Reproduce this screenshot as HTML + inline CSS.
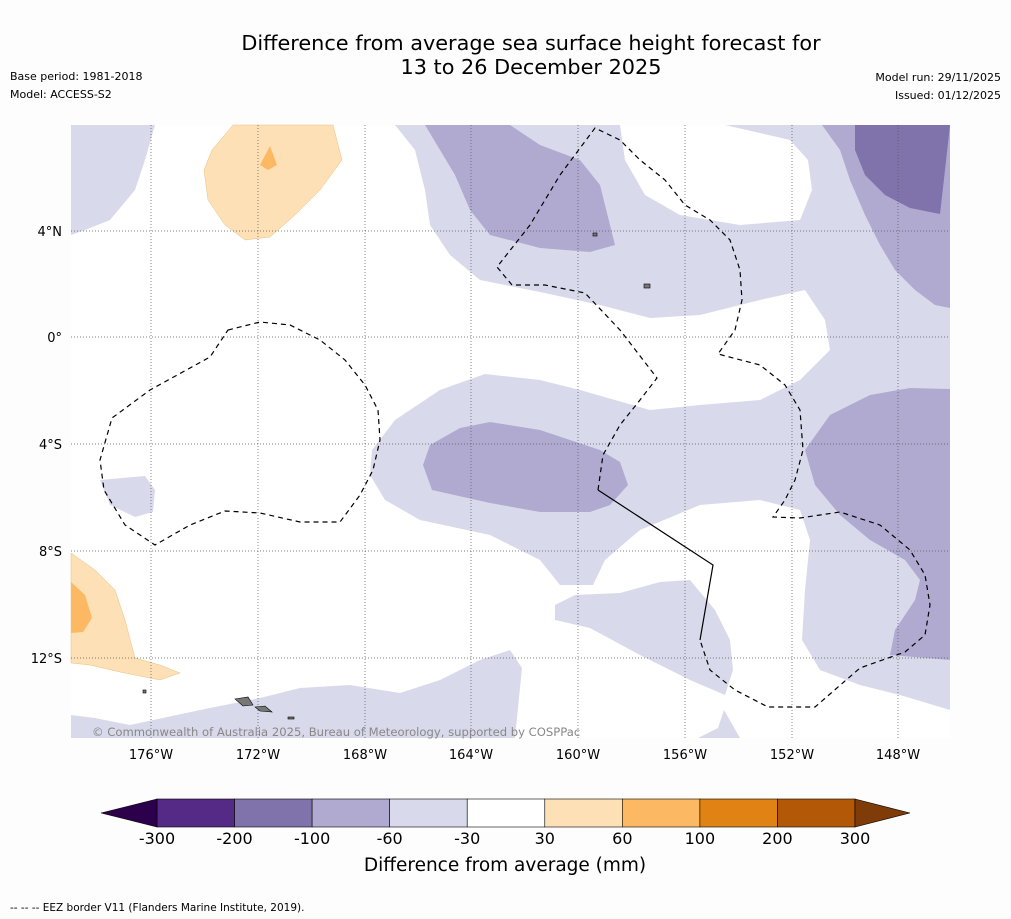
<!DOCTYPE html>
<html><head><meta charset="utf-8"><style>
body{margin:0;background:#fdfdfd;width:1011px;height:919px;overflow:hidden;font-family:"DejaVu Sans","Liberation Sans",sans-serif;}
svg{position:absolute;left:0;top:0;font-family:"DejaVu Sans","Liberation Sans",sans-serif;}
</style></head><body>
<svg width="1011" height="919" xmlns="http://www.w3.org/2000/svg">
<text x="531" y="50" font-size="20.8" text-anchor="middle" fill="#000">Difference from average sea surface height forecast for</text>
<text x="531" y="74" font-size="20.8" text-anchor="middle" fill="#000">13 to 26 December 2025</text>
<text x="10" y="80" font-size="11">Base period: 1981-2018</text>
<text x="10" y="98" font-size="11">Model: ACCESS-S2</text>
<text x="1001" y="81" font-size="11" text-anchor="end">Model run: 29/11/2025</text>
<text x="1001" y="99" font-size="11" text-anchor="end">Issued: 01/12/2025</text>

<g>
<rect x="71" y="125" width="879" height="613" fill="#fff"/>
<g fill="#d8daeb">
<path d="M71,125 L155,125 L145,160 L135,190 L110,220 L85,230 L71,235Z"/>
<path d="M395,125 L620,125 L625,160 L645,195 L680,215 L740,225 L800,220 L812,190 L808,160 L790,140 L725,125 L950,125 L950,710 L900,695 L860,685 L820,670 L802,640 L805,590 L810,540 L800,510 L760,500 L700,505 L640,530 L605,560 L593,585 L560,585 L540,560 L490,535 L420,520 L385,500 L370,475 L372,450 L395,420 L440,390 L485,374 L540,380 L580,390 L650,410 L700,405 L760,400 L800,380 L830,350 L825,320 L805,290 L760,300 L700,315 L650,318 L600,305 L540,292 L480,280 L450,255 L430,225 L425,190 L415,150Z"/>
<path d="M100,480 L145,476 L155,490 L153,512 L135,517 L110,505Z"/>
<path d="M555,605 L575,595 L620,593 L660,582 L690,580 L715,610 L730,640 L733,670 L725,695 L690,680 L640,655 L590,628 L555,620Z"/>
<path d="M71,715 L95,718 L130,725 L200,710 L260,698 L300,688 L350,685 L400,693 L440,680 L480,660 L510,650 L522,668 L515,738 L71,738Z"/>
<path d="M698,738 L718,728 L724,710 L740,738Z"/>
</g>
<g fill="#b0aad1">
<path d="M425,125 L510,125 L540,145 L580,160 L600,185 L615,245 L590,252 L540,248 L490,235 L470,210 L455,175 L440,150Z"/>
<path d="M822,125 L950,125 L950,308 L935,305 L915,290 L895,270 L880,245 L865,215 L850,180 L840,150Z"/>
<path d="M430,445 L460,428 L490,422 L540,430 L600,450 L620,462 L628,485 L610,505 L590,512 L540,512 L490,503 L432,490 L423,465Z"/>
<path d="M805,450 L830,415 L870,395 L910,388 L950,389 L950,660 L890,655 L895,630 L915,600 L920,580 L905,560 L870,540 L840,515 L815,485Z"/>
</g>
<path d="M855,125 L950,125 L945,170 L940,214 L910,208 L885,195 L865,175 L855,150Z" fill="#8073ac"/>
<g>
<path d="M233,125 L333,125 L342,160 L320,190 L295,215 L270,237 L245,240 L225,225 L208,200 L204,170 L212,150Z" fill="#fee0b6" stroke="#e8c080" stroke-width="0.5"/>
<path d="M260,165 L270,146 L277,165 L268,170Z" fill="#fdb863"/>
<path d="M71,553 L95,570 L115,590 L125,620 L135,658 L160,665 L180,673 L160,680 L120,672 L90,665 L71,663Z" fill="#fee0b6" stroke="#e8c080" stroke-width="0.5"/>
<path d="M71,582 L85,595 L92,618 L83,632 L71,633Z" fill="#fdb863"/>
</g>
<g stroke="#555" stroke-width="0.7" stroke-dasharray="1,2">
<line x1="151" y1="125" x2="151" y2="738"/><line x1="258" y1="125" x2="258" y2="738"/><line x1="365" y1="125" x2="365" y2="738"/><line x1="471" y1="125" x2="471" y2="738"/><line x1="578" y1="125" x2="578" y2="738"/><line x1="685" y1="125" x2="685" y2="738"/><line x1="792" y1="125" x2="792" y2="738"/><line x1="898" y1="125" x2="898" y2="738"/>
<line x1="71" y1="231" x2="950" y2="231"/><line x1="71" y1="337" x2="950" y2="337"/><line x1="71" y1="444" x2="950" y2="444"/><line x1="71" y1="551" x2="950" y2="551"/><line x1="71" y1="658" x2="950" y2="658"/>
</g>
<g fill="none" stroke="#000" stroke-width="1.2">
<path stroke-dasharray="5,4" d="M228,330 L260,322 L290,325 L320,340 L345,360 L365,385 L378,410 L380,440 L373,470 L360,495 L340,522 L300,522 L260,513 L225,511 L190,525 L155,545 L125,525 L104,490 L100,460 L112,418 L150,390 L210,357Z"/>
<path stroke-dasharray="5,4" d="M598,490 L603,455 L620,425 L640,400 L657,378 L620,330 L585,293 L545,285 L512,285 L497,267 L530,225 L560,175 L595,128 L620,140 L640,160 L665,180 L685,205 L710,220 L730,240 L740,270 L742,300 L735,330 L718,354 L760,365 L785,385 L800,410 L803,450 L795,480 L785,500 L773,517 L800,518 L840,512 L880,525 L910,550 L925,575 L930,605 L925,635 L905,652 L860,668 L815,707 L768,707 L735,690 L710,670 L700,640"/>
<path d="M598,490 L713,565 L700,640"/>
</g>
<g fill="#777" stroke="#000" stroke-width="0.6">
<path d="M235,699 L248,697 L253,705 L243,706Z"/><path d="M255,707 L265,706 L272,712 L260,711Z"/>
<rect x="593" y="233" width="4" height="3"/><rect x="644" y="284" width="6" height="4"/><rect x="143" y="690" width="3" height="3"/><rect x="288" y="717" width="6" height="2"/>
</g>
<text x="92" y="736" font-size="11.6" fill="#888">© Commonwealth of Australia 2025, Bureau of Meteorology, supported by COSPPac</text>
</g>
<g font-size="13" fill="#000">
<text x="151" y="759" text-anchor="middle">176°W</text><text x="258" y="759" text-anchor="middle">172°W</text><text x="365" y="759" text-anchor="middle">168°W</text><text x="471" y="759" text-anchor="middle">164°W</text><text x="578" y="759" text-anchor="middle">160°W</text><text x="685" y="759" text-anchor="middle">156°W</text><text x="792" y="759" text-anchor="middle">152°W</text><text x="898" y="759" text-anchor="middle">148°W</text>
<text x="62" y="236" text-anchor="end">4°N</text><text x="62" y="342" text-anchor="end">0°</text><text x="62" y="449" text-anchor="end">4°S</text><text x="62" y="556" text-anchor="end">8°S</text><text x="62" y="663" text-anchor="end">12°S</text>
</g>
<g id="cbar"></g>
<text x="505" y="871" font-size="18.5" text-anchor="middle">Difference from average (mm)</text>
<text x="10" y="911" font-size="10.5">--  --  -- EEZ border V11 (Flanders Marine Institute, 2019).</text>
</svg>
<script>
const tickLabels=["-300","-200","-100","-60","-30","30","60","100","200","300"];
const binColors=["#552a86","#8073ac","#b0aad1","#d8daeb","#ffffff","#fee0b6","#fdb863","#e08214","#b35806"];
const extColors=["#2d004b","#7f3b08"];
const svgNS="http://www.w3.org/2000/svg";
const cbarG=document.getElementById('cbar');
const cbX0=157,cbX1=855,cbTop=799,cbH=28;
const cbStep=(cbX1-cbX0)/binColors.length;
function bx(i){return cbX0+i*cbStep;}
binColors.forEach((c,i)=>{
 const r=document.createElementNS(svgNS,'rect');
 r.setAttribute('x',bx(i));r.setAttribute('y',cbTop);r.setAttribute('width',cbStep);r.setAttribute('height',cbH);
 r.setAttribute('fill',c);r.setAttribute('stroke','#000');r.setAttribute('stroke-width','0.6');
 
 
 cbarG.appendChild(r);
});
[[cbX0,101,extColors[0]],[cbX1,910,extColors[1]]].forEach(([b,t,c])=>{
 const p=document.createElementNS(svgNS,'path');
 p.setAttribute('d',`M${b},${cbTop} L${t},${cbTop+cbH/2} L${b},${cbTop+cbH}Z`);
 p.setAttribute('fill',c);p.setAttribute('stroke','#000');p.setAttribute('stroke-width','0.6');
 
 
 cbarG.appendChild(p);
});
tickLabels.forEach((l,i)=>{
 const t=document.createElementNS(svgNS,'text');
 t.setAttribute('x',bx(i));t.setAttribute('y',844);t.setAttribute('font-size','16');t.setAttribute('text-anchor','middle');
 t.textContent=l;
 
 
 cbarG.appendChild(t);
});
</script>
</body></html>
